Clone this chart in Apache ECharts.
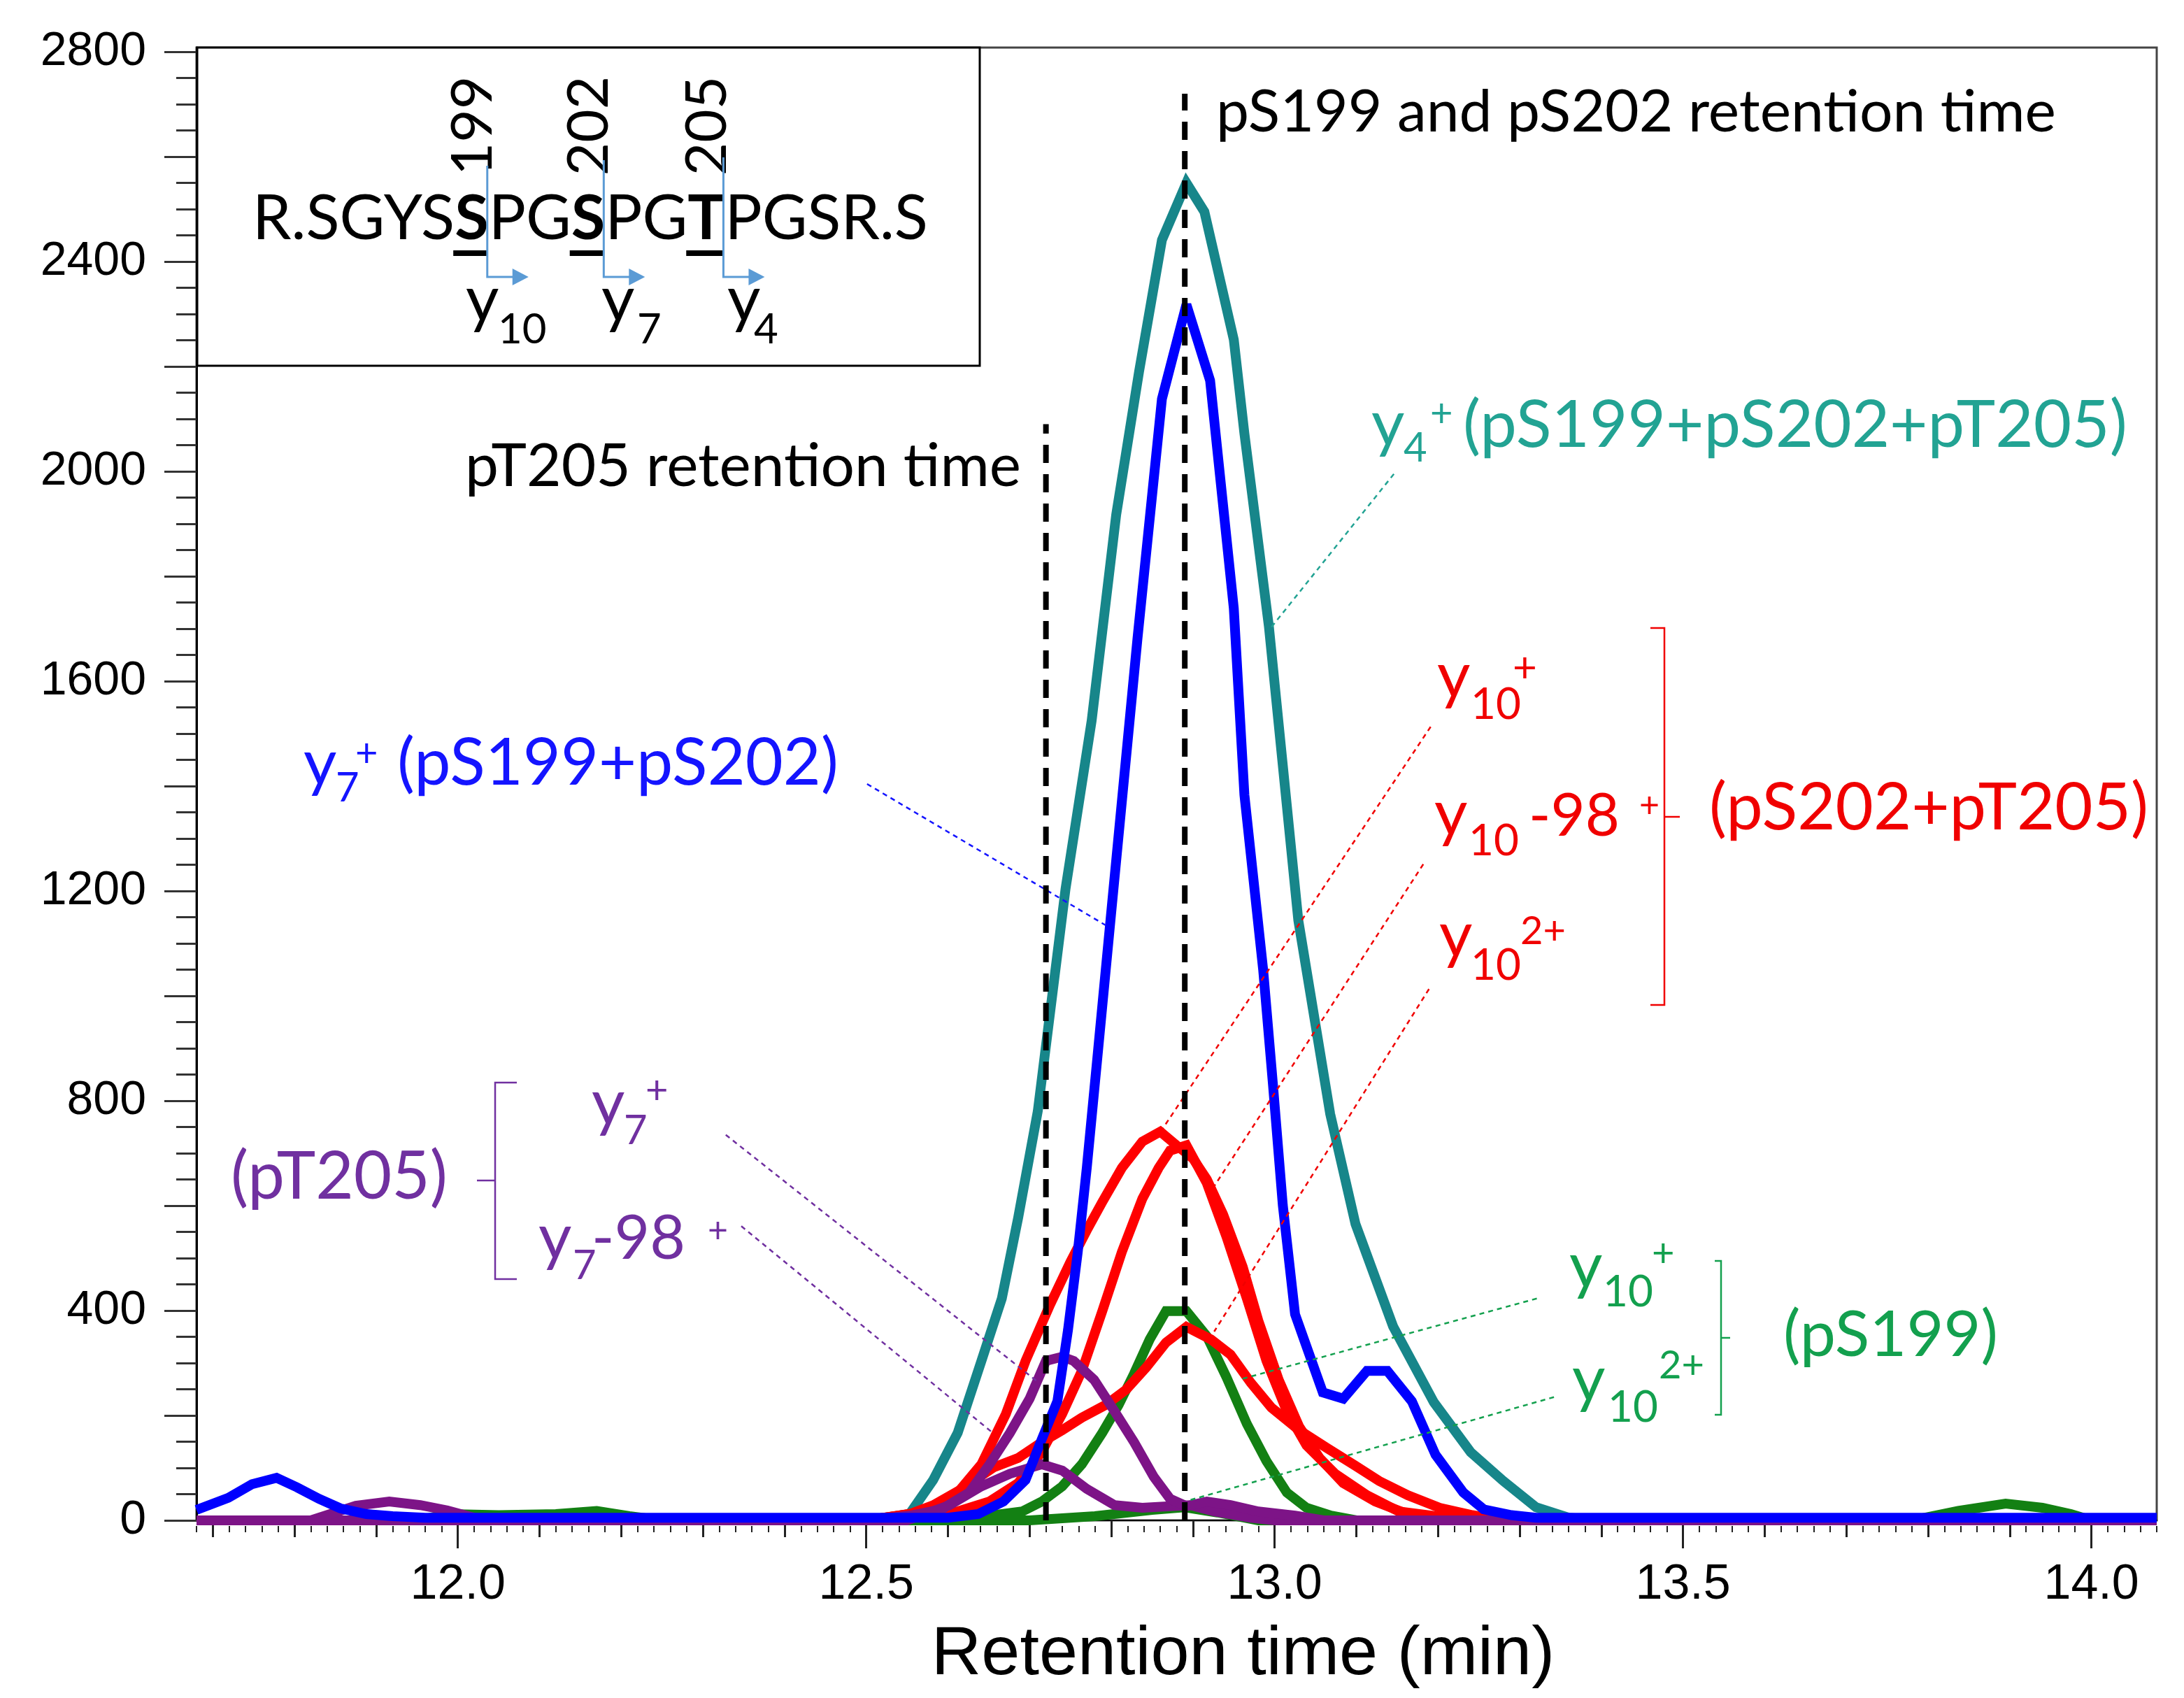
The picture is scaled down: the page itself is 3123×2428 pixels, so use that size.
<!DOCTYPE html>
<html>
<head>
<meta charset="utf-8">
<script src="https://cdn.jsdelivr.net/npm/echarts@6.0.0/dist/echarts.min.js"></script>
<style>
  html, body { margin: 0; padding: 0; background: #ffffff; }
  #chart { width: 3123px; height: 2428px; }
</style>
</head>
<body>
<div id="chart"></div>
<script>
// Extracted ion chromatograms: [retention time (min), intensity]
const y4Teal = [[11.68,0],[12.50,0],[12.553,12],[12.582,77],[12.612,167],[12.641,304],[12.666,423],[12.686,577],[12.710,780],[12.744,1204],[12.776,1525],[12.806,1917],[12.834,2190],[12.862,2441],[12.892,2550],[12.914,2495],[12.950,2251],[12.963,2072],[12.993,1704],[13.029,1144],[13.068,775],[13.099,565],[13.145,370],[13.195,225],[13.240,130],[13.280,75],[13.320,25],[13.360,5],[13.400,0],[14.08,0]];

const y7Blue = [[11.68,20],[11.719,43],[11.748,69],[11.778,81],[11.803,63],[11.830,41],[11.856,23],[11.888,12],[11.920,8],[11.960,5],[12.600,5],[12.637,12],[12.668,36],[12.695,77],[12.715,155],[12.734,227],[12.747,363],[12.759,512],[12.770,672],[12.784,899],[12.799,1144],[12.832,1680],[12.862,2138],[12.892,2318],[12.921,2173],[12.950,1739],[12.963,1383],[12.986,1049],[12.998,830],[13.010,601],[13.025,393],[13.059,244],[13.084,232],[13.113,285],[13.138,285],[13.168,227],[13.197,125],[13.231,53],[13.256,21],[13.290,10],[13.320,5],[14.08,5]];

const y10RedA = [[11.68,0],[12.50,0],[12.573,17],[12.612,53],[12.641,107],[12.671,203],[12.695,304],[12.725,411],[12.750,493],[12.770,553],[12.789,607],[12.813,672],[12.838,722],[12.860,741],[12.880,715],[12.900,690],[12.917,650],[12.937,583],[12.961,483],[12.980,381],[13.005,268],[13.030,179],[13.055,119],[13.084,71],[13.123,36],[13.163,12],[13.200,0],[14.08,0]];

const y10m98RedB = [[11.68,0],[12.50,0],[12.573,9],[12.612,17],[12.651,36],[12.686,71],[12.715,131],[12.740,203],[12.764,285],[12.789,399],[12.813,512],[12.838,613],[12.858,672],[12.872,705],[12.892,715],[12.917,643],[12.941,541],[12.966,423],[12.990,304],[13.015,208],[13.039,143],[13.074,89],[13.113,48],[13.152,17],[13.192,9],[13.230,0],[14.08,0]];

const y10z2RedC = [[11.68,0],[12.50,0],[12.553,12],[12.582,29],[12.617,60],[12.656,101],[12.686,119],[12.715,149],[12.740,172],[12.764,196],[12.793,220],[12.818,249],[12.843,292],[12.867,339],[12.892,369],[12.922,345],[12.946,316],[12.971,262],[12.996,215],[13.030,172],[13.064,138],[13.098,105],[13.128,75],[13.163,48],[13.202,24],[13.242,10],[13.280,0],[14.08,0]];

const y7Purple = [[11.68,0],[11.820,0],[11.875,28],[11.916,36],[11.954,29],[11.987,19],[12.020,5],[12.060,0],[12.50,0],[12.553,9],[12.592,21],[12.626,53],[12.651,107],[12.676,167],[12.700,232],[12.720,304],[12.740,312],[12.754,304],[12.779,268],[12.804,208],[12.828,149],[12.852,83],[12.872,41],[12.892,27],[12.917,36],[12.946,29],[12.980,17],[13.025,9],[13.060,0],[14.08,0]];

const y7m98Purple = [[11.68,0],[12.550,0],[12.602,29],[12.641,65],[12.676,89],[12.715,107],[12.740,95],[12.770,60],[12.804,29],[12.838,24],[12.872,27],[12.897,29],[12.926,17],[12.971,5],[13.000,0],[14.08,0]];

const y10Green = [[11.68,0],[12.600,0],[12.651,9],[12.691,17],[12.715,36],[12.740,65],[12.764,107],[12.789,167],[12.809,220],[12.828,280],[12.847,345],[12.867,399],[12.892,399],[12.917,351],[12.941,273],[12.966,184],[12.990,113],[13.015,53],[13.039,24],[13.069,9],[13.100,0],[13.780,0],[13.837,18],[13.895,32],[13.940,24],[13.975,12],[14.000,0],[14.08,0]];

const y10z2Green = [[11.68,0],[11.950,0],[11.990,12],[12.050,10],[12.120,12],[12.170,18],[12.210,8],[12.250,0],[12.700,0],[12.780,8],[12.850,20],[12.890,25],[12.930,15],[12.980,0],[14.08,0]];

// Retention time markers: [time, top of the dashed line]
const rtPT205 = [[12.72,0],[12.72,2090]];
const rtPS199PS202 = [[12.89,0],[12.89,2720]];

// Leader lines from labels to traces
const leaderTeal = [[13.146,1995],[12.993,1697]];
const leaderBlue = [[12.501,1404],[12.796,1132]];
const leaderRed1 = [[13.191,1513],[12.863,747]];
const leaderRed2 = [[13.182,1251],[12.926,637]];
const leaderRed3 = [[13.189,1013],[12.926,360]];
const leaderGreen1 = [[13.321,423],[12.956,268]];
const leaderGreen2 = [[13.342,235],[12.897,39]];
const leaderPurple1 = [[12.328,735],[12.710,264]];
const leaderPurple2 = [[12.347,561],[12.654,168]];

// Axis ticks
const xLabelTicks = [12.0, 12.5, 13.0, 13.5, 14.0];
const xMidTicks = [];
for (let i = 117; i <= 140; i++) xMidTicks.push(i / 10);
const xMinorTicks = [];
for (let i = 584; i <= 704; i++) xMinorTicks.push(i / 50);
const yLabelTicks = [0, 400, 800, 1200, 1600, 2000, 2400, 2800];
const yMajorTicks = [];
for (let v = 0; v <= 2800; v += 200) yMajorTicks.push(v);
const yMinorTicks = [];
for (let v = 0; v <= 2800; v += 50) yMinorTicks.push(v);

const X_MIN = 11.68, X_MAX = 14.08, Y_MIN = 0, Y_MAX = 2808;

const C = {
  teal: '#17868a', tealText: '#22a393',
  blue: '#0000ff', blueText: '#1414ff',
  red: '#ff0000', redText: '#f00000',
  purple: '#7d1487', purpleText: '#7030a0',
  green: '#138013', greenText: '#13a04e',
  arrow: '#5b9bd5'
};

const ANN = 'Lato';
const AX = 'Liberation Sans';
const MID = 0.387; // em-middle to alphabetic baseline
const TRACE_W = 14;

const mctx = document.createElement('canvas').getContext('2d');
function textW(s, size, weight) {
  mctx.font = (weight || 'normal') + ' ' + size + 'px ' + ANN;
  return mctx.measureText(s).width;
}
function fit(s, w, weight) { return 100 * w / textW(s, 100, weight); }

function piece(s, x, baseline, size, color, weight) {
  return { type: 'text', x: x, y: baseline - MID * size, z: 100, silent: true,
    style: { text: s, fill: color, font: (weight || 'normal') + ' ' + size + 'px ' + ANN, align: 'left', verticalAlign: 'middle' } };
}
function supPlus(s, x, centerY, size, color) {
  // superscript placed by its visual centre
  return { type: 'text', x: x, y: centerY, z: 100, silent: true,
    style: { text: s, fill: color, font: size + 'px ' + ANN, align: 'left', verticalAlign: 'middle' } };
}
function seg(x1, y1, x2, y2, color, w) {
  return { type: 'line', z: 100, silent: true, shape: { x1, y1, x2, y2 }, style: { stroke: color, lineWidth: w } };
}
function poly(points, color, w) {
  return { type: 'polyline', z: 100, silent: true, shape: { points }, style: { stroke: color, lineWidth: w, fill: null } };
}

const graphics = [];

// ---- peptide inset ----
graphics.push({ type: 'rect', z: 90, silent: true, shape: { x: 282, y: 68, width: 1119, height: 455 },
  style: { fill: '#ffffff', stroke: '#000000', lineWidth: 3 } });

const seqParts = [['R.SGYS', 'normal'], ['S', 'bold'], ['PG', 'normal'], ['S', 'bold'], ['PG', 'normal'], ['T', 'bold'], ['PGSR.S', 'normal']];
let seqW100 = 0;
seqParts.forEach(p => { seqW100 += textW(p[0], 100, p[1]); });
const seqSize = 100 * 966 / seqW100;
let sx = 361;
const boldBoxes = [];
seqParts.forEach(p => {
  const w = textW(p[0], seqSize, p[1]);
  graphics.push(piece(p[0], sx, 348, seqSize, '#000', p[1]));
  if (p[1] === 'bold') boldBoxes.push([sx, w]);
  sx += w;
});
const siteLabels = ['199', '202', '205'];
const arrowTops = [237, 229, 225];
const ionLabels = [['10', 666, 712], ['7', 860, 911], ['4', 1040, 1078]];
boldBoxes.forEach((b, i) => {
  const cx = b[0] + b[1] / 2;
  const right = b[0] + b[1] - 2;
  graphics.push({ type: 'rect', z: 100, silent: true, shape: { x: b[0] - 2, y: 358, width: b[1], height: 8 }, style: { fill: '#000' } });
  graphics.push({ type: 'text', x: cx + 2, y: 180, rotation: Math.PI / 2, z: 100, silent: true,
    style: { text: siteLabels[i], fill: '#000', font: '82px ' + ANN, align: 'center', verticalAlign: 'middle' } });
  graphics.push(poly([[right, arrowTops[i]], [right, 396], [right + 38, 396]], C.arrow, 3));
  graphics.push({ type: 'polygon', z: 100, silent: true, shape: { points: [[right + 36, 384], [right + 59, 396], [right + 36, 408]] }, style: { fill: C.arrow } });
  const il = ionLabels[i];
  graphics.push(piece('y', il[1], 465, 92, '#000'));
  graphics.push(piece(il[0], il[2], 495, 60, '#000'));
});

// ---- retention time captions ----
graphics.push(piece('pS199 and pS202 retention time', 1739, 193, fit('pS199 and pS202 retention time', 1201), '#000'));
graphics.push(piece('pT205 retention time', 665, 701, fit('pT205 retention time', 795), '#000'));

// ---- y4 (teal) ----
graphics.push(piece('y', 1961, 643, 92, C.tealText));
graphics.push(piece('4', 2007, 664, 58, C.tealText));
graphics.push(supPlus('+', 2045, 592, 56, C.tealText));
graphics.push(piece('(pS199+pS202+pT205)', 2092, 645, fit('(pS199+pS202+pT205)', 950), C.tealText));

// ---- y7 (blue) ----
graphics.push(piece('y', 434, 1128, 92, C.blueText));
graphics.push(piece('7', 480, 1150, 58, C.blueText));
graphics.push(supPlus('+', 508, 1078, 56, C.blueText));
graphics.push(piece('(pS199+pS202)', 568, 1128, fit('(pS199+pS202)', 631), C.blueText));

// ---- y10 group (red) ----
graphics.push(piece('y', 2055, 1003, 92, C.redText));
graphics.push(piece('10', 2103, 1032, 62, C.redText));
graphics.push(supPlus('+', 2163, 956, 60, C.redText));
graphics.push(piece('y', 2051, 1200, 92, C.redText));
graphics.push(piece('10', 2100, 1227, 62, C.redText));
graphics.push(piece('-98', 2186, 1200, fit('-98', 130), C.redText));
graphics.push(supPlus('+', 2344, 1152, 50, C.redText));
graphics.push(piece('y', 2058, 1374, 92, C.redText));
graphics.push(piece('10', 2103, 1405, 62, C.redText));
graphics.push(supPlus('2+', 2174, 1332, 56, C.redText));
graphics.push(poly([[2360, 898], [2380, 898], [2380, 1437], [2360, 1437]], C.redText, 2.5));
graphics.push(seg(2380, 1168, 2402, 1168, C.redText, 2.5));
graphics.push(piece('(pS202+pT205)', 2444, 1192, fit('(pS202+pT205)', 628), C.redText));

// ---- y10 group (green) ----
graphics.push(piece('y', 2244, 1847, 92, C.greenText));
graphics.push(piece('10', 2292, 1872, 62, C.greenText));
graphics.push(supPlus('+', 2362, 1793, 56, C.greenText));
graphics.push(piece('y', 2248, 2009, 92, C.greenText));
graphics.push(piece('10', 2299, 2037, 62, C.greenText));
graphics.push(supPlus('2+', 2372, 1953, 56, C.greenText));
graphics.push(poly([[2452, 1803], [2461, 1803], [2461, 2023], [2452, 2023]], C.greenText, 2.5));
graphics.push(seg(2461, 1913, 2474, 1913, C.greenText, 2.5));
graphics.push(piece('(pS199)', 2550, 1945, fit('(pS199)', 307), C.greenText));

// ---- y7 group (purple) ----
graphics.push(piece('(pT205)', 330, 1720, fit('(pT205)', 310), C.purpleText));
graphics.push(poly([[739, 1548], [708, 1548], [708, 1829], [739, 1829]], C.purpleText, 2.5));
graphics.push(seg(708, 1688, 682, 1688, C.purpleText, 2.5));
graphics.push(piece('y', 846, 1614, 92, C.purpleText));
graphics.push(piece('7', 892, 1640, 58, C.purpleText));
graphics.push(supPlus('+', 923, 1560, 56, C.purpleText));
graphics.push(piece('y', 770, 1806, 92, C.purpleText));
graphics.push(piece('7', 819, 1833, 58, C.purpleText));
graphics.push(piece('-98', 846, 1806, fit('-98', 134), C.purpleText));
graphics.push(supPlus('+', 1012, 1760, 50, C.purpleText));

function curve(name, data, color, z) {
  return { name, type: 'line', data, z, clip: false, symbol: 'none', showSymbol: false, silent: true,
    lineStyle: { color, width: TRACE_W, join: 'miter', miterLimit: 3 }, itemStyle: { color }, emphasis: { disabled: true } };
}
function leader(name, data, color) {
  return { name, type: 'line', data, z: 30, clip: false, symbol: 'none', showSymbol: false, silent: true,
    lineStyle: { color, width: 2.5, type: [7, 6] }, emphasis: { disabled: true } };
}
function rtLine(name, data) {
  return { name, type: 'line', data, z: 40, clip: false, symbol: 'none', showSymbol: false, silent: true,
    lineStyle: { color: '#000', width: 8, type: [26, 16] }, emphasis: { disabled: true } };
}

const xCommon = { type: 'value', min: X_MIN, max: X_MAX, position: 'bottom', offset: 8, splitLine: { show: false } };
const yCommon = { type: 'value', min: Y_MIN, max: Y_MAX, position: 'left', splitLine: { show: false } };

const option = {
  animation: false,
  backgroundColor: '#ffffff',
  grid: { left: 281, right: 39, top: 68, bottom: 254, show: true, borderColor: '#444', borderWidth: 3, containLabel: false },
  xAxis: [
    Object.assign({}, xCommon, {
      axisLine: { show: true, lineStyle: { color: '#000', width: 2 } },
      axisTick: { show: true, customValues: xLabelTicks, length: 40, lineStyle: { color: '#222', width: 3 } },
      axisLabel: { show: true, customValues: xLabelTicks, formatter: v => v.toFixed(1), fontFamily: AX, fontSize: 70, color: '#000', margin: 50 },
      name: 'Retention time (min)', nameLocation: 'middle', nameGap: 135,
      nameTextStyle: { fontFamily: AX, fontSize: 99, color: '#000', lineHeight: 100, padding: [0, 0, 0, 190] }
    }),
    Object.assign({}, xCommon, {
      axisLine: { show: false },
      axisTick: { show: true, customValues: xMidTicks, length: 24, lineStyle: { color: '#222', width: 3 } },
      axisLabel: { show: false }
    }),
    Object.assign({}, xCommon, {
      axisLine: { show: false },
      axisTick: { show: true, customValues: xMinorTicks, length: 9, lineStyle: { color: '#222', width: 2 } },
      axisLabel: { show: false }
    })
  ],
  yAxis: [
    Object.assign({}, yCommon, {
      axisLine: { show: true, lineStyle: { color: '#000', width: 3 } },
      axisTick: { show: true, customValues: yMajorTicks, length: 46, lineStyle: { color: '#333', width: 3 } },
      axisLabel: { show: true, customValues: yLabelTicks, formatter: v => String(v), fontFamily: AX, fontSize: 68, color: '#000', margin: 72 }
    }),
    Object.assign({}, yCommon, {
      axisLine: { show: false },
      axisTick: { show: true, customValues: yMinorTicks, length: 29, lineStyle: { color: '#333', width: 3 } },
      axisLabel: { show: false }
    })
  ],
  series: [
    curve('y4+ (pS199+pS202+pT205)', y4Teal, C.teal, 3),
    curve('y10+ (pS199)', y10Green, C.green, 4),
    curve('y10 2+ (pS199)', y10z2Green, C.green, 4),
    curve('y10 2+ (pS202+pT205)', y10z2RedC, C.red, 5),
    curve('y10-98+ (pS202+pT205)', y10m98RedB, C.red, 5),
    curve('y10+ (pS202+pT205)', y10RedA, C.red, 5),
    curve('y7-98+ (pT205)', y7m98Purple, C.purple, 6),
    curve('y7+ (pT205)', y7Purple, C.purple, 6),
    curve('y7+ (pS199+pS202)', y7Blue, C.blue, 7),
    rtLine('pT205 retention time', rtPT205),
    rtLine('pS199 and pS202 retention time', rtPS199PS202),
    leader('leader y4', leaderTeal, C.tealText),
    leader('leader y7', leaderBlue, C.blueText),
    leader('leader y10+', leaderRed1, C.redText),
    leader('leader y10-98+', leaderRed2, C.redText),
    leader('leader y10 2+', leaderRed3, C.redText),
    leader('leader pS199 y10+', leaderGreen1, C.greenText),
    leader('leader pS199 y10 2+', leaderGreen2, C.greenText),
    leader('leader pT205 y7+', leaderPurple1, C.purpleText),
    leader('leader pT205 y7-98+', leaderPurple2, C.purpleText)
  ],
  graphic: { elements: graphics }
};

const chart = echarts.init(document.getElementById('chart'), null, { renderer: 'canvas' });
chart.setOption(option);
</script>
</body>
</html>
